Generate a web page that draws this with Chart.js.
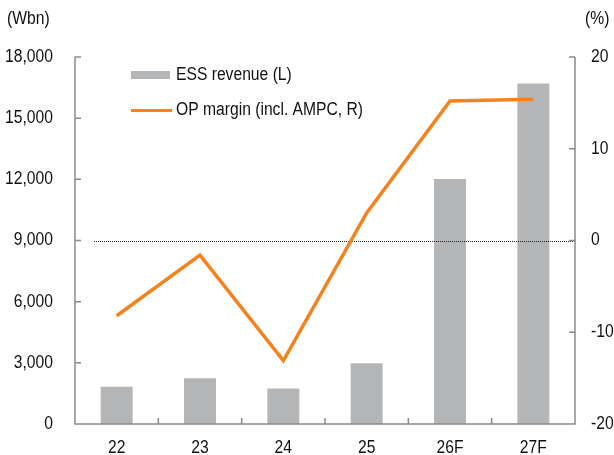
<!DOCTYPE html>
<html>
<head>
<meta charset="utf-8">
<script src="https://cdn.jsdelivr.net/npm/chart.js@4.4.1/dist/chart.umd.min.js"></script>
<style>
    html, body { margin: 0; padding: 0; background: #fff; }
</style>
</head>
<body>
<canvas id="essChart" width="614" height="455"></canvas>
<script>
const years = ['22', '23', '24', '25', '26F', '27F'];
const essRevenue = [1830, 2240, 1740, 2980, 12020, 16700];   // Wbn, left axis
const opMargin = [-8.2, -1.6, -13.1, 3.0, 15.2, 15.4];      // %, right axis
const seriesNames = ['ESS revenue (L)', 'OP margin (incl. AMPC, R)'];
const unitLeft = '(Wbn)';
const unitRight = '(%)';

const BAR_COLOR = '#b4b5b7';
const LINE_COLOR = '#f5821f';
const AXIS_COLOR = '#8a8a8a';
const TEXT_COLOR = '#111';
const FONT = "18px 'Liberation Sans', Arial, sans-serif";
const SQUEEZE = 0.87;   // narrow-face look for all text

// text drawn horizontally condensed; align is 'left' | 'center' | 'right'
function narrowText(ctx, str, x, y, align) {
    const w = ctx.measureText(str).width * SQUEEZE;
    let x0 = x;
    if (align === 'center') x0 = x - w / 2;
    else if (align === 'right') x0 = x - w;
    ctx.save();
    ctx.translate(x0, y);
    ctx.scale(SQUEEZE, 1);
    ctx.textAlign = 'left';
    ctx.fillText(str, 0, 0);
    ctx.restore();
}

const frame = {
    id: 'frame',
    // dotted zero line sits over the bars but under the margin line
    afterDatasetDraw(chart, args) {
        if (args.meta.type !== 'bar') return;
        const { ctx, chartArea: a, scales } = chart;
        const y0 = Math.round(scales.y1.getPixelForValue(0)) + 0.5;
        ctx.save();
        ctx.strokeStyle = '#222';
        ctx.lineWidth = 1;
        ctx.setLineDash([1, 1]);
        ctx.beginPath();
        ctx.moveTo(94, y0);
        ctx.lineTo(a.right, y0);
        ctx.stroke();
        ctx.restore();
    },
    afterDraw(chart) {
        const { ctx, chartArea: a, scales } = chart;
        const { x, y, y1 } = scales;
        ctx.save();

        // axes with inward ticks
        ctx.strokeStyle = AXIS_COLOR;
        ctx.lineWidth = 1.5;
        ctx.beginPath();
        ctx.moveTo(a.left, a.top);
        ctx.lineTo(a.left, a.bottom);
        ctx.lineTo(a.right, a.bottom);
        ctx.lineTo(a.right, a.top);
        y.ticks.forEach(t => {
            const p = y.getPixelForValue(t.value);
            ctx.moveTo(a.left, p);
            ctx.lineTo(a.left + 6, p);
        });
        y1.ticks.forEach(t => {
            const p = y1.getPixelForValue(t.value);
            ctx.moveTo(a.right, p);
            ctx.lineTo(a.right - 6, p);
        });
        const half = (x.getPixelForValue(1) - x.getPixelForValue(0)) / 2;
        for (let i = 1; i < years.length; i++) {
            const p = x.getPixelForValue(i) - half;
            ctx.moveTo(p, a.bottom);
            ctx.lineTo(p, a.bottom - 6);
        }
        ctx.stroke();

        // tick labels
        ctx.fillStyle = TEXT_COLOR;
        ctx.font = FONT;
        ctx.textBaseline = 'middle';
        y.ticks.forEach(t => {
            narrowText(ctx, t.value.toLocaleString('en-US'), a.left - 22, y.getPixelForValue(t.value), 'right');
        });
        y1.ticks.forEach(t => {
            narrowText(ctx, String(t.value), a.right + 16, y1.getPixelForValue(t.value), 'left');
        });
        x.ticks.forEach((t, i) => {
            narrowText(ctx, x.getLabelForValue(t.value), x.getPixelForValue(i), a.bottom + 24, 'center');
        });

        // legend
        const ds = chart.data.datasets;
        ctx.fillStyle = BAR_COLOR;
        ctx.fillRect(131, 71, 39, 8);
        ctx.strokeStyle = LINE_COLOR;
        ctx.lineWidth = 3;
        ctx.beginPath();
        ctx.moveTo(131, 110.5);
        ctx.lineTo(172, 110.5);
        ctx.stroke();
        ctx.fillStyle = TEXT_COLOR;
        narrowText(ctx, ds.find(d => d.type === 'bar').label, 176, 75, 'left');
        narrowText(ctx, ds.find(d => d.type === 'line').label, 176, 110, 'left');

        // units
        narrowText(ctx, unitLeft, 7, 19, 'left');
        narrowText(ctx, unitRight, 585, 19, 'left');
        ctx.restore();
    }
};

new Chart(document.getElementById('essChart'), {
    data: {
        labels: years,
        datasets: [
            {
                type: 'line',
                label: seriesNames[1],
                data: opMargin,
                yAxisID: 'y1',
                borderColor: LINE_COLOR,
                borderWidth: 3.5,
                pointRadius: 0,
                tension: 0,
                order: 0
            },
            {
                type: 'bar',
                label: seriesNames[0],
                data: essRevenue,
                yAxisID: 'y',
                backgroundColor: BAR_COLOR,
                borderWidth: 0,
                barPercentage: 0.384,
                categoryPercentage: 1,
                order: 1
            }
        ]
    },
    options: {
        responsive: false,
        animation: false,
        devicePixelRatio: 1,
        layout: { padding: { top: 57, left: 0, right: 0, bottom: 0 } },
        plugins: {
            legend: { display: false },
            tooltip: { enabled: false }
        },
        scales: {
            x: {
                grid: { display: false, drawTicks: false },
                border: { display: false },
                ticks: { display: false },
                afterFit(s) { s.height = 31; }
            },
            y: {
                position: 'left',
                min: 0,
                max: 18000,
                ticks: { display: false, stepSize: 3000 },
                grid: { display: false, drawTicks: false },
                border: { display: false },
                afterFit(s) { s.width = 75; }
            },
            y1: {
                position: 'right',
                min: -20,
                max: 20,
                ticks: { display: false, stepSize: 10 },
                grid: { display: false, drawTicks: false },
                border: { display: false },
                afterFit(s) { s.width = 39; }
            }
        }
    },
    plugins: [frame]
});
</script>
</body>
</html>
